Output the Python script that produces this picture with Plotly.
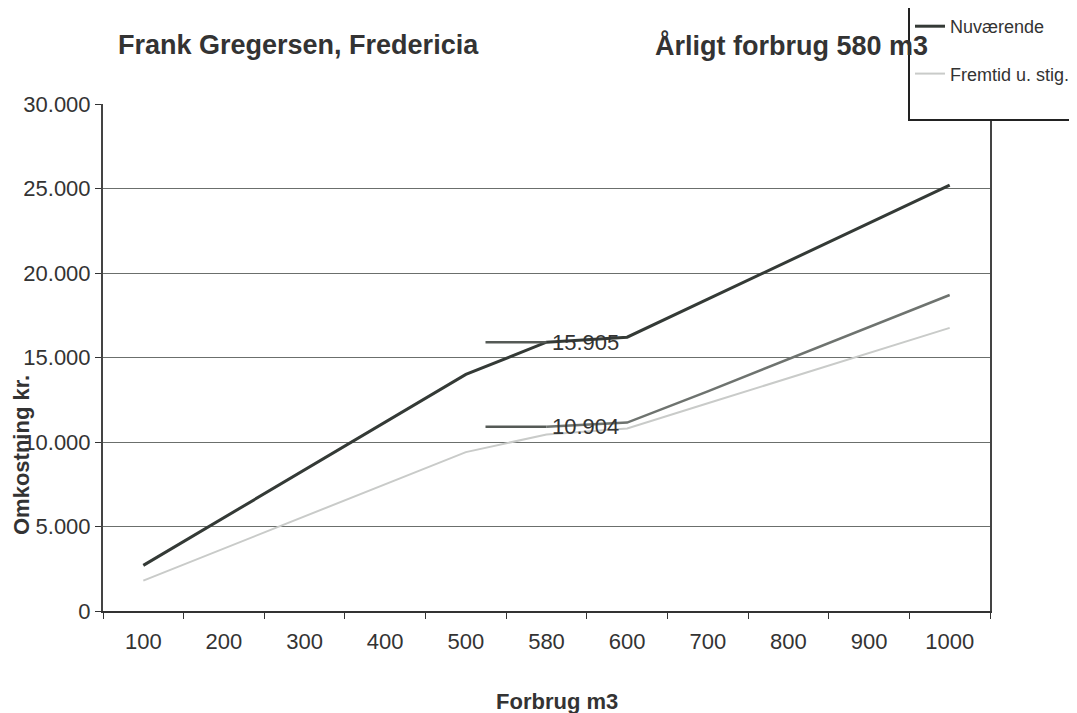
import plotly.graph_objects as go

categories = ["100", "200", "300", "400", "500", "580", "600", "700", "800", "900", "1000"]
nuvaerende = [2700, 5525, 8350, 11175, 14000, 15905, 16200, 18450, 20700, 22950, 25200]
fremtid_u_stig = [1800, 3700, 5600, 7500, 9400, 10450, 10800, 12290, 13780, 15270, 16750]
fremtid_mid = [None, None, None, None, None, 10904, 11150, 13000, 14900, 16800, 18700]
label_cat = "580"
label_values = [15905, 10904]
label_texts = ["15.905", "10.904"]
yticks = [0, 5000, 10000, 15000, 20000, 25000, 30000]

font = "Liberation Sans, Arial, sans-serif"
TXT = "#333"

fig = go.Figure()
fig.add_trace(go.Scatter(x=categories, y=nuvaerende, mode="lines", name="Nuværende",
                         line=dict(color="#343a36", width=3), legendgroup="a"))
fig.add_trace(go.Scatter(x=categories, y=fremtid_mid, mode="lines", name="mid",
                         line=dict(color="#6e736f", width=2.5), showlegend=False))
fig.add_trace(go.Scatter(x=categories, y=fremtid_u_stig, mode="lines", name="Fremtid u. stig.",
                         line=dict(color="#c9cbc9", width=2), legendgroup="b"))
# blank legend row that gives the legend box its extra bottom space
fig.add_trace(go.Scatter(x=[None], y=[None], mode="lines", name=" ", hoverinfo="skip",
                         line=dict(color="rgba(0,0,0,0)", width=0), legendgroup="b"))

# page is offset by the 8px body margin; plot area spans page x 103-990, y 104-611
PL, PT, PW, PH = 103, 104, 887, 507
def px(xp):
    return (xp - PL) / PW
def py(yp):
    return (PT + PH - yp) / PH

fig.update_layout(
    width=1069, height=705,
    margin=dict(l=PL - 8, r=1069 - (PL - 8) - PW, t=PT - 8, b=705 - (PT - 8) - PH,
                autoexpand=False),
    paper_bgcolor="white", plot_bgcolor="white",
    separators=",.",
    font=dict(family=font, color=TXT),
    showlegend=True,
    legend=dict(x=px(1077), y=py(6), xanchor="right", yanchor="top",
                bgcolor="white", bordercolor="#222", borderwidth=2,
                font=dict(size=18, color=TXT, family=font),
                tracegroupgap=21, traceorder="grouped"),
)

fig.add_annotation(text="<b>Frank Gregersen, Fredericia</b>", xref="paper", yref="paper",
                   x=px(116), y=py(45), xanchor="left", yanchor="middle",
                   showarrow=False, font=dict(size=27, color=TXT, family=font))
fig.add_annotation(text="<b>Årligt forbrug 580 m3</b>", xref="paper", yref="paper",
                   x=px(653), y=py(45), xanchor="left", yanchor="middle",
                   showarrow=False, font=dict(size=27, color=TXT, family=font))
fig.add_annotation(text="<b>Omkostning kr.</b>", xref="paper", yref="paper",
                   x=px(21), y=py(455), xanchor="center", yanchor="middle",
                   textangle=-90, showarrow=False, font=dict(size=22, color=TXT, family=font))
fig.add_annotation(text="<b>Forbrug m3</b>", xref="paper", yref="paper",
                   x=px(557), y=py(701), xanchor="center", yanchor="middle",
                   showarrow=False, font=dict(size=22, color=TXT, family=font))

label_idx = categories.index(label_cat)
for v, t in zip(label_values, label_texts):
    fig.add_annotation(x=label_idx, y=v, xref="x", yref="y", text=t, showarrow=False,
                       xanchor="left", xshift=3, font=dict(size=22, color=TXT, family=font))
    fig.add_annotation(x=label_idx, y=v, xref="x", yref="y", text=" ", showarrow=True,
                       arrowhead=0, arrowwidth=2.5, arrowcolor="#555a56", ax=-64, ay=0,
                       standoff=0, startstandoff=0)

fig.update_xaxes(type="category", categoryorder="array", categoryarray=categories,
                 range=[-0.5, len(categories) - 0.5],
                 tickson="boundaries", ticks="outside", ticklen=6, tickcolor="#333",
                 showline=True, linecolor="#333", linewidth=2, showgrid=False,
                 ticklabelstandoff=10,
                 tickfont=dict(size=22, color=TXT, family=font), zeroline=False)
fig.update_yaxes(range=[0, 30000], tickvals=yticks, tickformat=",d",
                 ticks="outside", ticklen=6, tickcolor="#333",
                 showline=True, linecolor="#444", linewidth=2, mirror=True,
                 showgrid=True, gridcolor="#6b6f6c", gridwidth=1.3, zeroline=False,
                 tickfont=dict(size=22, color=TXT, family=font))

fig.write_html("out.html")
